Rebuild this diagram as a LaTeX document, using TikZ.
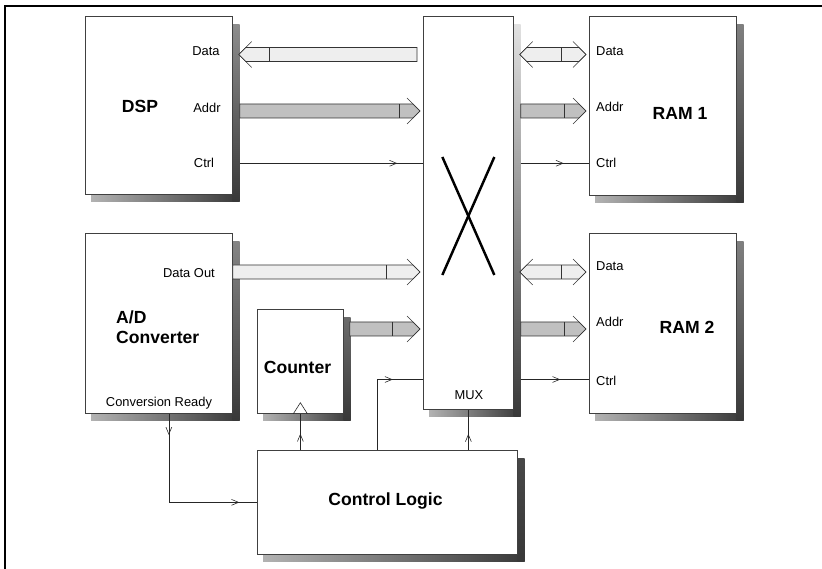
\documentclass[tikz,border=0pt]{standalone}
\usepackage{fontspec}
\setmainfont{Liberation Sans}
\usepackage{xcolor}
\usepackage{tikz}
\usetikzlibrary{arrows.meta, positioning, calc, decorations.markings}

\definecolor{busLight}{HTML}{EEEEEE}
\definecolor{busDark}{HTML}{C0C0C0}
\pgfdeclarelayer{bg}
\pgfsetlayers{bg,main}

% fat bus arrow: fill, from, tip, separator offset, direction (1 right, -1 left)
\newcommand{\bus}[5]{%
  \filldraw[busedge, fill=#1] ($(#2)+(0,7)$) -- ($(#3)+(-7*#5,7)$) -- (#3)
    -- ($(#3)+(-7*#5,-7)$) -- ($(#2)+(0,-7)$) -- cycle;
  \draw[busedge] ($(#3)+(-#4*#5,7)$) -- ++(0,-14);
  \draw[busedge] ($(#3)+(-13*#5,13)$) -- (#3) -- ($(#3)+(-13*#5,-13)$);}
% two-headed bus: fill, left tip, right tip, separator offset
\newcommand{\busboth}[4]{%
  \filldraw[busedge, fill=#1] (#2) -- ($(#2)+(7,7)$) -- ($(#3)+(-7,7)$) -- (#3)
    -- ($(#3)+(-7,-7)$) -- ($(#2)+(7,-7)$) -- cycle;
  \draw[busedge] ($(#2)+(#4,7)$) -- ++(0,-14);
  \draw[busedge] ($(#2)+(13,13)$) -- (#2) -- ($(#2)+(13,-13)$);
  \draw[busedge] ($(#3)+(-13,13)$) -- (#3) -- ($(#3)+(-13,-13)$);}
% soft drop shadow below and right of a box
\newcommand{\boxshade}[2][black!50]{%
  \begin{pgfonlayer}{bg}
  \shade[left color=black!30, right color=black!78] ($(#2.south west)+(6,0)$) rectangle ($(#2.south east)+(7,-7)$);
  \shade[top color=#1, bottom color=black!78] ($(#2.north east)+(0,-9)$) rectangle ($(#2.south east)+(7,-7)$);
  \end{pgfonlayer}}

\begin{document}
\begin{tikzpicture}[x=0.03cm, y=0.03cm,
    blk/.style={draw=black!75, line width=0.6pt, fill=white, anchor=north west, inner sep=0pt},
    boxsize/.style 2 args={minimum width=#1*0.03cm, minimum height=#2*0.03cm},
    port/.style={font=\fontsize{11}{13}\selectfont, inner sep=0pt},
    title/.style={font=\fontsize{15}{17}\selectfont\bfseries, inner sep=0pt, align=left},
    busedge/.style={draw=black!80, line width=0.5pt},
    sig/.style={draw=black!85, line width=0.5pt},
    midarrow/.style={postaction={decorate, decoration={markings,
        mark=at position #1 with {\arrow{Straight Barb[length=6pt, width=5pt]}}}}}]
  \useasboundingbox (0,0) rectangle (822,569);
  \draw[line width=2pt] (5,-20) -- (5,563) -- (840,563);

  % boxes
  \node[blk, boxsize={147}{178}] (dsp) at (85,553) {};
  \node[blk, boxsize={90}{393}] (mux) at (423,553) {};
  \node[blk, boxsize={147}{179}] (ram1) at (589,553) {};
  \node[blk, boxsize={147}{180}] (adc) at (85,336) {};
  \node[blk, boxsize={86}{104}] (counter) at (257,260) {};
  \node[blk, boxsize={147}{180}] (ram2) at (589,336) {};
  \node[blk, boxsize={260}{104}] (ctrl) at (257,119) {};
  \boxshade[black!45]{dsp}
  \boxshade[black!12]{mux}
  \boxshade[black!50]{ram1}
  \boxshade[black!48]{adc}
  \boxshade[black!58]{counter}
  \boxshade[black!50]{ram2}
  \boxshade[black!72]{ctrl}

  % titles
  \node[title] (dsptitle) at (140,463) {DSP};
  \node[title] (ram1title) at (680,456) {RAM 1};
  \node[title] (ram2title) at (687,242) {RAM 2};
  \node[title, anchor=west] (adctitle) at (116,242) {A/D\\Converter};
  \node[title] (countertitle) at (297.5,202) {Counter};
  \node[title] (ctrltitle) at (385.5,68) {Control Logic};
  \node[port] (muxtitle) at (469,174) {MUX};

  % port labels
  \node[port] (dspdata) at (206,518) {Data};
  \node[port] (dspaddr) at (207,461) {Addr};
  \node[port] (dspctrl) at (204,406) {Ctrl};
  \node[port, anchor=west] (ram1data) at (596,518) {Data};
  \node[port, anchor=west] (ram1addr) at (596,462) {Addr};
  \node[port, anchor=west] (ram1ctrl) at (596,406) {Ctrl};
  \node[port, anchor=west] (ram2data) at (596,303) {Data};
  \node[port, anchor=west] (ram2addr) at (596,247) {Addr};
  \node[port, anchor=west] (ram2ctrl) at (596,188) {Ctrl};
  \node[port, anchor=east] (adcout) at (215,296) {Data Out};
  \node[port] (adcready) at (159,166) {Conversion Ready};

  % bus rows
  \coordinate (r1) at (0,514.5);
  \coordinate (r2) at (0,458);
  \coordinate (r3) at (0,405.7);
  \coordinate (r4) at (0,297);
  \coordinate (r5) at (0,240);
  \coordinate (r6) at (0,189.5);

  \coordinate (d1a) at ($(mux.west|-r1)+(-6,0)$);
  \coordinate (d1b) at ($(dsp.east|-r1)+(6,0)$);
  \bus{busLight}{d1a}{d1b}{31}{-1}
  \coordinate (a1a) at ($(dsp.east|-r2)+(7,0)$);
  \coordinate (a1b) at ($(mux.west|-r2)+(-3,0)$);
  \bus{busDark}{a1a}{a1b}{21}{1}
  \coordinate (d2a) at ($(mux.east|-r1)+(6,0)$);
  \coordinate (d2b) at ($(ram1.west|-r1)+(-3,0)$);
  \busboth{busLight}{d2a}{d2b}{42}
  \coordinate (a2a) at ($(mux.east|-r2)+(7,0)$);
  \coordinate (a2b) at ($(ram1.west|-r2)+(-3,0)$);
  \bus{busDark}{a2a}{a2b}{22}{1}
  \coordinate (d3a) at (adc.east|-r4);
  \coordinate (d3b) at ($(mux.west|-r4)+(-3,0)$);
  \bus{busLight}{d3a}{d3b}{34}{1}
  \coordinate (a3a) at ($(counter.east|-r5)+(6,0)$);
  \coordinate (a3b) at ($(mux.west|-r5)+(-3,0)$);
  \bus{busDark}{a3a}{a3b}{28}{1}
  \coordinate (d4a) at ($(mux.east|-r4)+(6,0)$);
  \coordinate (d4b) at ($(ram2.west|-r4)+(-3,0)$);
  \busboth{busLight}{d4a}{d4b}{42}
  \coordinate (a4a) at ($(mux.east|-r5)+(7,0)$);
  \coordinate (a4b) at ($(ram2.west|-r5)+(-3,0)$);
  \bus{busDark}{a4a}{a4b}{22}{1}

  % control signals
  \draw[sig, midarrow=0.86] ($(dsp.east|-r3)+(7,0)$) -- (mux.west|-r3);
  \draw[sig, midarrow=0.63] ($(mux.east|-r3)+(7,0)$) -- (ram1.west|-r3);
  \draw[sig, midarrow=0.58] ($(mux.east|-r6)+(7,0)$) -- (ram2.west|-r6);
  \coordinate (rdy) at ($(adc.south)+(10,0)$);
  \draw[sig, midarrow=0.12, midarrow=0.9] (rdy) |- (ctrl.west);
  \draw[sig, midarrow=0.45] (counter.south|-ctrl.north) -- (counter.south);
  \draw[sig] ($(counter.south)+(-7,0)$) -- ++(7,11) -- ++(7,-11);
  \draw[sig, midarrow=0.4] (mux.south|-ctrl.north) -- (mux.south);
  \coordinate (selx) at (377,0);
  \draw[sig, midarrow=0.74] (selx|-ctrl.north) |- (mux.west|-r6);

  % crossbar mark
  \draw[line width=2.1pt] ($(mux.north)+(-26,-141)$) -- ($(mux.north)+(26,-259)$);
  \draw[line width=2.1pt] ($(mux.north)+(26,-141)$) -- ($(mux.north)+(-26,-259)$);
\end{tikzpicture}
\end{document}
